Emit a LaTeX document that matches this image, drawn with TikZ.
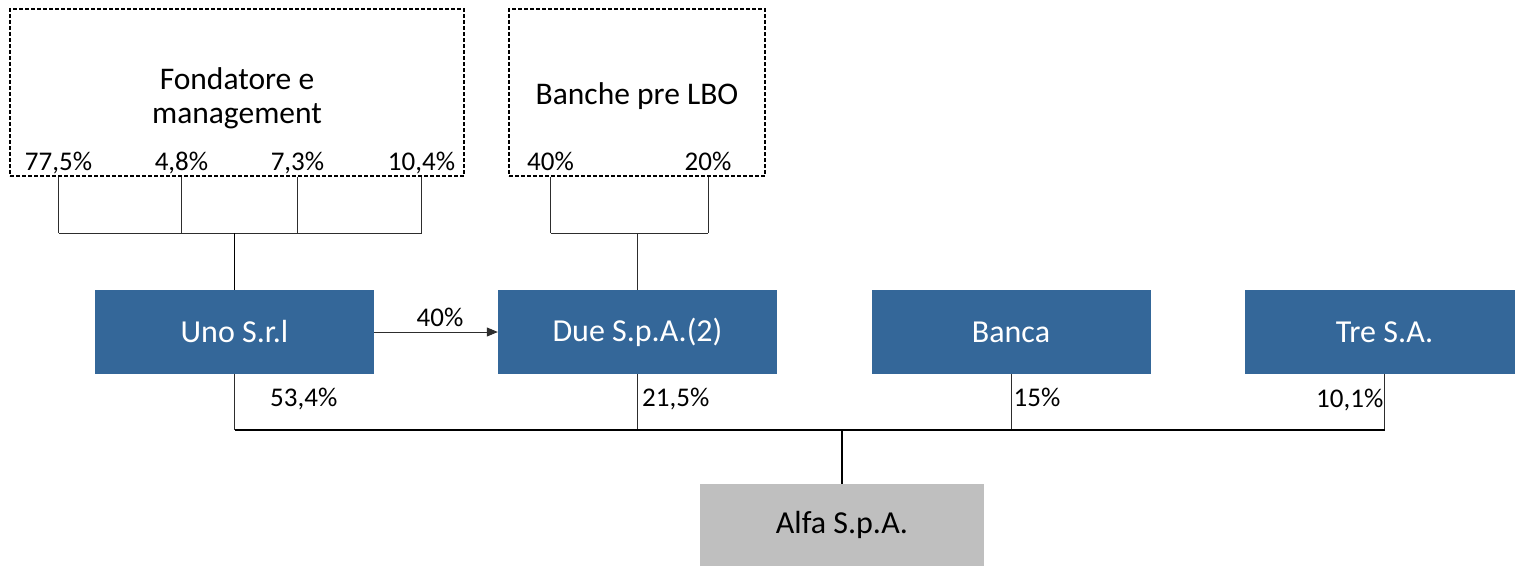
\documentclass[tikz,border=0pt]{standalone}
\usepackage{fontspec}
\setmainfont{Carlito}
\usetikzlibrary{arrows.meta}
\definecolor{boxblue}{RGB}{52,103,153}
\definecolor{boxgray}{RGB}{191,191,191}
\definecolor{linkgray}{RGB}{45,45,45}
\begin{document}
\begin{tikzpicture}[x=1pt,y=-1pt,
  entity/.style={fill=boxblue, text=white, draw=none, minimum width=279pt,
    minimum height=84pt, inner sep=0pt, font=\fontsize{32}{38}\selectfont},
  target/.style={entity, fill=boxgray, text=black, minimum width=284pt},
  holder/.style={draw, dash pattern=on 4pt off 2pt, line width=1.1pt,
    inner sep=0pt},
  title/.style={font=\fontsize{31.5}{34}\selectfont, align=center, inner sep=0pt},
  pct/.style={font=\fontsize{27}{32}\selectfont, inner sep=0pt},
  link/.style={draw=linkgray, line width=1pt},
  trunk/.style={draw=black, line width=1.8pt}]
\useasboundingbox (0,0) rectangle (1515,565);
\clip (0,0) rectangle (1515,565);

% shareholder groups
\node[holder, minimum width=454pt, minimum height=167pt] (fond) at (237,92.5) {};
\node[holder, minimum width=256pt, minimum height=167pt] (banc) at (637,92.5) {};
\node[title] (fondtxt) at (237,98) {Fondatore e\\management};
\node[title, anchor=base] (banctxt) at (637,104) {Banche pre LBO};

\node[pct, anchor=base] (f1) at (58.5,170) {77,5\%};
\node[pct, anchor=base] (f2) at (181.5,170) {4,8\%};
\node[pct, anchor=base] (f3) at (297.5,170) {7,3\%};
\node[pct, anchor=base] (f4) at (421.5,170) {10,4\%};
\node[pct, anchor=base] (b1) at (550.5,170) {40\%};
\node[pct, anchor=base] (b2) at (708,170) {20\%};

% companies
\node[entity] (uno) at (234.5,332) {Uno S.r.l};
\node[entity] (due) at (637.5,332) {Due S.p.A.(2)};
\node[entity] (banca) at (1011,332) {Banca};
\node[entity] (tre) at (1384.5,332) {Tre S.A.};
\node[target, minimum height=82pt] (alfa) at (842,525) {Alfa S.p.A.};

% junctions
\coordinate (jf) at (uno.north |- 0,233);
\coordinate (jb) at (due.north |- 0,233);
\coordinate (ja) at (alfa.north |- 0,430);

% founders and management into Uno
\foreach \p in {f1,f2,f3,f4}
  \draw[link] (\p |- fond.south) -- (\p |- jf);
\draw[link] (f1 |- jf) -- (f4 |- jf);
\draw[trunk] (jf) -- (uno.north);

% banks into Due
\foreach \p in {b1,b2}
  \draw[link] (\p |- banc.south) -- (\p |- jb);
\draw[link] (b1 |- jb) -- (b2 |- jb);
\draw[link, line width=1.4pt] (jb) -- (due.north);

% Uno holds 40% of Due
\draw[link, -{Triangle[length=11pt,width=9pt]}] (uno.east) -- (due.west)
  node[pct, midway, above=5pt, xshift=4pt] (ud) {40\%};

% holdings in Alfa
\foreach \c in {uno,due,banca,tre}
  \draw[link] (\c.south) -- (\c.south |- ja);
\draw[trunk] (uno.south |- ja) -- (tre.south |- ja);
\draw[trunk] (ja) -- (alfa.north);

\node[pct, anchor=base west] (u1) at (270,406) {53,4\%};
\node[pct, anchor=base west] (d1) at (642,406) {21,5\%};
\node[pct, anchor=base west] (k1) at (1013.5,406) {15\%};
\node[pct, anchor=base east] (t1) at (1383.5,407) {10,1\%};
\end{tikzpicture}
\end{document}
